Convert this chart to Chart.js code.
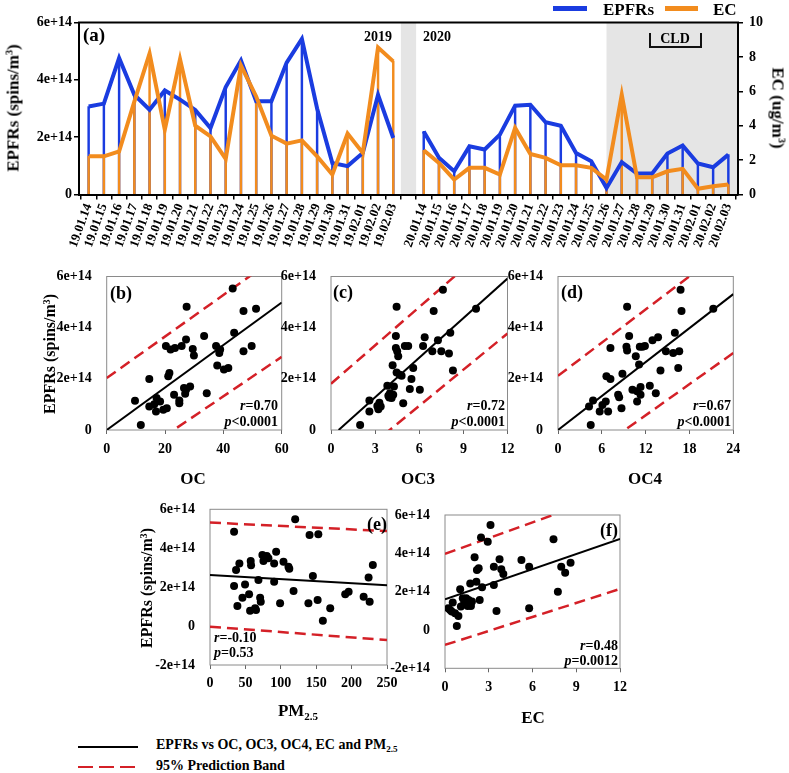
<!DOCTYPE html>
<html>
<head>
<meta charset="utf-8">
<script src="https://cdn.jsdelivr.net/npm/chart.js@4"></script>
<style>
  body { margin:0; width:789px; height:773px; position:relative; overflow:hidden; background:#fff;
         font-family:'Liberation Serif','Times New Roman',serif; font-weight:bold; color:#000; }
  canvas { position:absolute; }
  .note { position:absolute; white-space:nowrap; line-height:1; }
  .bar { position:absolute; }
</style>
</head>
<body>
<canvas id="ca"></canvas>
<canvas id="cb"></canvas>
<canvas id="cc"></canvas>
<canvas id="cd"></canvas>
<canvas id="ce"></canvas>
<canvas id="cf"></canvas>
<script>
// panel (a): daily EPFRs (x1e14 spins/m3) and EC (ug/m3)
const labels2019 = ['19.01.14','19.01.15','19.01.16','19.01.17','19.01.18','19.01.19','19.01.20','19.01.21',
  '19.01.22','19.01.23','19.01.24','19.01.25','19.01.26','19.01.27','19.01.28','19.01.29','19.01.30','19.01.31',
  '19.02.01','19.02.02','19.02.03'];
const labels2020 = ['20.01.14','20.01.15','20.01.16','20.01.17','20.01.18','20.01.19','20.01.20','20.01.21',
  '20.01.22','20.01.23','20.01.24','20.01.25','20.01.26','20.01.27','20.01.28','20.01.29','20.01.30','20.01.31',
  '20.02.01','20.02.02','20.02.03'];
const epfrs2019 = [3.07,3.17,4.76,3.48,2.96,3.63,3.31,2.95,2.32,3.75,4.68,3.25,3.25,4.60,5.43,3.00,1.10,0.99,1.45,3.48,1.97];
const ec2019    = [2.22,2.22,2.50,5.40,8.20,3.77,7.87,4.00,3.38,2.07,7.50,5.70,3.42,2.96,3.15,2.22,1.16,3.54,2.42,8.55,7.74];
const epfrs2020 = [2.20,1.28,0.81,1.68,1.57,2.09,3.10,3.13,2.52,2.40,1.45,1.16,0.23,1.13,0.73,0.73,1.43,1.71,1.08,0.95,1.39];
const ec2020    = [2.57,1.84,0.87,1.55,1.55,1.16,3.87,2.36,2.13,1.70,1.70,1.55,0.87,5.80,1.00,1.00,1.35,1.49,0.33,0.48,0.58];
const cldStartDay = '20.01.26';

// panels (b)-(f): [x, EPFRs x1e14]
const ptsOC = [[9.7,1.14],[11.7,0.20],[14.6,1.99],[14.6,0.92],[16.3,1.01],[16.9,0.72],[17.1,1.25],[18.3,1.11],[19.4,0.79],
  [20.6,0.85],[20.3,3.28],[21.1,2.10],[21.5,2.23],[21.9,3.15],[23.4,3.21],[25.7,3.28],[23.1,1.38],[24.9,1.15],[24.9,1.05],
  [27.2,3.54],[27.4,4.82],[26.5,1.64],[27.2,1.57],[28.6,1.70],[26.9,1.42],[29.5,3.17],[29.9,2.91],[33.4,3.67],[34.3,1.44],
  [37.5,3.28],[38.6,3.01],[38.9,3.15],[37.9,2.52],[40.2,2.36],[41.7,2.42],[43.2,5.53],[43.7,3.80],[46.9,3.08],[46.9,4.65],
  [49.7,3.28],[51.2,4.74]];
const ptsOC3 = [[1.98,0.20],[2.61,1.15],[2.61,0.72],[3.15,0.94],[3.22,0.81],[3.29,1.07],[3.83,1.73],[3.90,1.34],[3.96,1.27],
  [4.01,1.44],[4.12,1.25],[4.23,1.38],[4.28,1.70],[4.19,2.53],[4.41,3.67],[4.46,4.82],[4.41,3.21],[4.50,3.08],[4.57,2.88],
  [4.46,2.25],[4.68,2.16],[4.80,2.12],[5.36,1.60],[4.91,1.05],[5.02,3.28],[5.25,3.28],[5.47,1.99],[5.59,2.42],[6.04,1.57],
  [6.26,3.28],[6.37,3.63],[6.89,3.08],[6.98,4.65],[7.27,3.51],[7.50,3.08],[7.61,5.48],[8.02,2.99],[8.11,3.80],[8.29,2.33],
  [9.86,4.74],[3.38,0.92]];
const ptsOC4 = [[4.48,0.20],[4.25,0.92],[4.80,1.15],[5.71,0.72],[6.08,0.98],[6.54,1.11],[6.86,0.72],[6.63,2.10],[7.18,1.99],
  [7.18,3.21],[8.23,1.38],[8.37,1.28],[8.82,2.20],[8.69,0.85],[9.46,4.82],[9.74,3.67],[9.37,3.25],[9.46,3.11],[10.19,1.57],
  [10.65,2.88],[10.83,1.11],[11.10,2.56],[11.20,3.25],[11.30,1.68],[11.30,1.38],[11.57,3.25],[11.90,3.28],[12.57,1.73],
  [12.94,3.51],[13.39,1.44],[13.70,3.63],[14.03,2.33],[14.77,3.08],[15.77,3.01],[16.00,3.80],[16.46,2.42],[16.60,3.08],
  [16.78,5.48],[16.91,4.65],[21.26,4.74],[10.83,1.51]];
const ptsPM = [[34,4.85],[34,2.06],[36.8,2.88],[38.7,1.03],[41.5,3.22],[45.8,1.46],[49.5,2.14],[55.2,1.63],[57.5,3.34],
  [58,3.13],[56.6,0.79],[63.7,0.91],[65,0.82],[68.4,2.37],[70.8,1.46],[71.7,1.25],[74,3.65],[75.5,3.34],[80.2,3.60],
  [82.5,3.48],[90.6,3.22],[90.6,2.28],[93.4,3.82],[99,1.17],[103.8,3.31],[110.8,3.05],[112,2.95],[118,1.80],[120.3,5.49],
  [139,1.17],[140.6,4.68],[145.3,2.57],[152,1.34],[153,4.72],[159.4,0.27],[169.8,0.91],[191,1.63],[195.8,1.77],[217,1.51],
  [224,2.49],[225.5,1.25],[230,3.14]];
const ptsEC = [[0.23,1.13],[0.35,1.04],[0.46,0.96],[0.53,1.43],[0.69,0.87],[0.81,0.21],[0.92,0.73],[1.04,2.12],[1.09,1.22],
  [1.22,1.65],[1.32,1.43],[1.45,1.65],[1.45,1.39],[1.55,1.25],[1.62,1.57],[1.73,2.43],[1.78,1.25],[1.85,1.48],[2.03,3.79],
  [2.15,2.52],[2.19,3.13],[2.31,3.22],[2.38,1.57],[2.47,4.83],[2.54,2.23],[2.93,4.61],[3.12,5.48],[3.35,3.30],[3.35,2.35],
  [3.53,0.99],[3.74,3.69],[3.86,3.17],[4.00,2.92],[5.24,3.65],[5.77,3.30],[5.77,1.13],[7.44,4.73],[7.74,2.00],[7.97,3.30],
  [8.24,2.99],[8.61,3.51]];

// fitted line and 95% prediction band end points, [x, y]
const fitOC  = [[0,0],[60,4.98]],    upOC  = [[0,2.03],[60,6.9]],   loOC  = [[0,-1.77],[60,2.86]];
const fitOC3 = [[0.52,0],[12,5.92]], upOC3 = [[0,1.81],[12,7.8]],   loOC3 = [[0,-1.88],[12,3.77]];
const fitOC4 = [[0,0],[24,5.31]],    upOC4 = [[0,2.12],[24,7.3]],   loOC4 = [[0,-1.86],[24,3.01]];
const fitPM  = [[0,2.62],[250,2.1]], upPM  = [[0,5.32],[250,4.88]], loPM  = [[0,-0.03],[250,-0.72]];
const fitEC  = [[0,1.6],[12,4.75]],  upEC  = [[0,3.97],[12,7.26]],  loEC  = [[0,-0.78],[12,2.14]];

const BLUE = '#1a3ce0', ORANGE = '#f28c1e', RED = '#d42027';

Chart.defaults.font.family = "'Liberation Serif','Times New Roman',serif";
Chart.defaults.font.weight = 'bold';
Chart.defaults.color = '#000';
Chart.defaults.animation = false;
Chart.defaults.plugins.legend.display = false;
Chart.defaults.plugins.tooltip.enabled = false;

function setCanvas(id, box) {
  const c = document.getElementById(id);
  c.width = box.w; c.height = box.h;
  c.style.left = box.x + 'px'; c.style.top = box.y + 'px';
  return c;
}
const sciTick = v => v === 0 ? '0' : v + 'e+14';

// ---- panel (a)
const dayLabels = labels2019.concat([''], labels2020);
const gapIndex = labels2019.length;
const epfrsPts = epfrs2019.concat([null], epfrs2020).map((v, i) => ({x: i, y: v}));
const ecPts = ec2019.concat([null], ec2020).map((v, i) => ({x: i, y: v}));

const shade = {
  id: 'shade',
  beforeDraw(chart) {
    const {ctx, chartArea: a, scales: {x}} = chart;
    ctx.save();
    ctx.fillStyle = '#e5e5e5';
    const g0 = x.getPixelForValue(gapIndex - 0.5), g1 = x.getPixelForValue(gapIndex + 0.5);
    ctx.fillRect(g0, a.top, g1 - g0, a.bottom - a.top);
    const c0 = x.getPixelForValue(dayLabels.indexOf(cldStartDay));
    ctx.fillRect(c0, a.top, a.right - c0, a.bottom - a.top);
    ctx.restore();
  },
  afterDraw(chart) {
    const {ctx, chartArea: a} = chart;
    ctx.save();
    ctx.strokeStyle = '#000'; ctx.lineWidth = 2;
    ctx.beginPath(); ctx.moveTo(a.left - 1, a.top); ctx.lineTo(a.right + 1, a.top); ctx.stroke();
    ctx.restore();
  }
};

const boxA = {x: 0, y: 0, w: 789, h: 272}, plotA = {l: 79, t: 22.5, r: 738, b: 194.5};
new Chart(setCanvas('ca', boxA), {
  type: 'line',
  data: {datasets: [
    {type: 'bar', data: epfrsPts, yAxisID: 'y', backgroundColor: BLUE, barThickness: 1.8, grouped: false, order: 4},
    {type: 'bar', data: ecPts, yAxisID: 'y2', backgroundColor: ORANGE, barThickness: 1.8, grouped: false, order: 3},
    {data: epfrsPts, yAxisID: 'y', borderColor: BLUE, borderWidth: 4, pointRadius: 0, order: 2},
    {data: ecPts, yAxisID: 'y2', borderColor: ORANGE, borderWidth: 4, pointRadius: 0, order: 1}
  ]},
  options: {
    responsive: false,
    layout: {padding: {top: plotA.t, left: 0, right: 0, bottom: 0}},
    scales: {
      x: {
        type: 'linear', min: -0.13, max: dayLabels.length - 1 + 0.13,
        afterBuildTicks: s => { s.ticks = dayLabels.map((_, i) => ({value: i})); },
        ticks: {autoSkip: false, minRotation: 70, maxRotation: 70, padding: 2, font: {size: 13},
                callback: v => dayLabels[v]},
        grid: {drawOnChartArea: false, tickLength: 5, color: '#000', lineWidth: 1.5},
        border: {color: '#000', width: 2},
        afterFit: s => { s.height = boxA.h - plotA.b; }
      },
      y: {
        position: 'left', min: 0, max: 6,
        ticks: {stepSize: 2, padding: 2, font: {size: 14}, callback: sciTick},
        grid: {drawOnChartArea: false, tickLength: 5, color: '#000', lineWidth: 1.5},
        border: {color: '#000', width: 2},
        afterFit: s => { s.width = plotA.l - boxA.x; }
      },
      y2: {
        position: 'right', min: 0, max: 10,
        ticks: {stepSize: 2, padding: 6, font: {size: 14}},
        grid: {drawOnChartArea: false, tickLength: 5, color: '#000', lineWidth: 1.5},
        border: {color: '#000', width: 2},
        afterFit: s => { s.width = boxA.x + boxA.w - plotA.r; }
      }
    }
  },
  plugins: [shade]
});

// ---- scatter panels
const frame = {
  id: 'frame',
  beforeDatasetsDraw(chart) {
    const {ctx, chartArea: a} = chart;
    ctx.save();
    ctx.strokeStyle = '#8a8a8a'; ctx.lineWidth = 1;
    ctx.strokeRect(a.left, a.top, a.right - a.left, a.bottom - a.top);
    ctx.restore();
  }
};
const xy = arr => arr.map(p => ({x: p[0], y: p[1]}));

function scatterPanel(id, box, plot, pts, fit, up, lo, xMax, xStep, yMin, xPad) {
  new Chart(setCanvas(id, box), {
    type: 'scatter',
    data: {datasets: [
      {data: xy(pts), pointRadius: 4, backgroundColor: '#000', borderWidth: 0},
      {data: xy(fit), showLine: true, borderColor: '#000', borderWidth: 2, pointRadius: 0},
      {data: xy(up), showLine: true, borderColor: RED, borderWidth: 2.5, borderDash: [11, 6], pointRadius: 0},
      {data: xy(lo), showLine: true, borderColor: RED, borderWidth: 2.5, borderDash: [11, 6], pointRadius: 0}
    ]},
    options: {
      responsive: false,
      layout: {padding: {left: 0, bottom: 0, top: plot.t - box.y, right: box.x + box.w - plot.r}},
      scales: {
        x: {
          min: 0, max: xMax,
          ticks: {stepSize: xStep, padding: xPad, font: {size: 14}},
          grid: {drawOnChartArea: false, tickLength: 4, color: '#666'},
          border: {display: false},
          afterFit: s => { s.height = box.y + box.h - plot.b; }
        },
        y: {
          min: yMin, max: 6,
          ticks: {stepSize: 2, padding: 7, font: {size: 14}, callback: sciTick},
          grid: {display: false},
          border: {display: false},
          afterFit: s => { s.width = plot.l - box.x; }
        }
      }
    },
    plugins: [frame]
  });
}

scatterPanel('cb', {x: 40, y: 260, w: 262, h: 200}, {l: 106.7, t: 276.5, r: 281.7, b: 430}, ptsOC, fitOC, upOC, loOC, 60, 20, 0, 7);
scatterPanel('cc', {x: 266, y: 260, w: 262, h: 200}, {l: 331, t: 276.5, r: 507.5, b: 430}, ptsOC3, fitOC3, upOC3, loOC3, 12, 3, 0, 7);
scatterPanel('cd', {x: 493, y: 260, w: 262, h: 200}, {l: 558, t: 276.5, r: 733.3, b: 430}, ptsOC4, fitOC4, upOC4, loOC4, 24, 6, 0, 7);
scatterPanel('ce', {x: 150, y: 492, w: 260, h: 205}, {l: 210, t: 509.3, r: 387, b: 665}, ptsPM, fitPM, upPM, loPM, 250, 50, -2, 6);
scatterPanel('cf', {x: 380, y: 497, w: 265, h: 205}, {l: 445, t: 515, r: 620, b: 668.3}, ptsEC, fitEC, upEC, loEC, 12, 3, -2, 7);

// ---- text, legends, brackets
function note(html, x, y, size, align, rot) {
  const d = document.createElement('div');
  d.className = 'note';
  d.innerHTML = html;
  d.style.left = x + 'px'; d.style.top = y + 'px'; d.style.fontSize = size + 'px';
  const tx = align === 'l' ? '0' : align === 'r' ? '-100%' : '-50%';
  d.style.transform = 'translate(' + tx + ',-50%)' + (rot ? ' rotate(' + rot + 'deg)' : '');
  document.body.appendChild(d);
}
function bar(x, y, w, h, bg, extra) {
  const d = document.createElement('div');
  d.className = 'bar';
  d.style.cssText = 'left:' + x + 'px;top:' + y + 'px;width:' + w + 'px;height:' + h + 'px;background:' + bg + ';' + (extra || '');
  document.body.appendChild(d);
}

const m3 = 'm<sup style="font-size:0.6em;vertical-align:0.55em">3</sup>';
const pm25 = 'PM<sub style="font-size:0.65em;vertical-align:-0.3em">2.5</sub>';

// top legend
bar(553, 6, 34, 5, BLUE);
note('EPFRs', 603, 8.5, 17, 'l');
bar(665, 6, 33, 5, ORANGE);
note('EC', 713, 8.5, 17, 'l');

// panel (a) text
note('(a)', 94, 34, 19);
note('2019', 378, 37, 14);
note('2020', 437, 37, 14);
note('CLD', 675, 39, 14);
bar(649, 33, 53, 15, 'transparent', 'box-sizing:border-box;border:2px solid #111;border-top:none;');
note('EPFRs (spins/' + m3 + ')', 13, 108, 17, 'c', -90);
note('EC (ug/' + m3 + ')', 778, 108, 17, 'c', 90);

// scatter texts
note('EPFRs (spins/' + m3 + ')', 50, 354, 16, 'c', -90);
note('EPFRs (spins/' + m3 + ')', 147, 588, 16, 'c', -90);
note('(b)', 121, 293, 18);
note('(c)', 343, 292, 18);
note('(d)', 572, 292, 18);
note('(e)', 387, 524, 18, 'r');
note('(f)', 618, 530, 18, 'r');
note('<i>r</i>=0.70', 278, 406, 14, 'r');
note('<i>p</i>&lt;0.0001', 278, 422, 14, 'r');
note('<i>r</i>=0.72', 505, 406, 14, 'r');
note('<i>p</i>&lt;0.0001', 505, 422, 14, 'r');
note('<i>r</i>=0.67', 731, 406, 14, 'r');
note('<i>p</i>&lt;0.0001', 731, 422, 14, 'r');
note('<i>r</i>=-0.10', 214, 638, 14, 'l');
note('<i>p</i>=0.53', 214, 653, 14, 'l');
note('<i>r</i>=0.48', 618, 646, 14, 'r');
note('<i>p</i>=0.0012', 618, 661, 14, 'r');
note('OC', 193, 478, 17);
note('OC3', 418, 478, 17);
note('OC4', 645, 478, 17);
note(pm25, 298, 712, 17);
note('EC', 533, 717, 17);

// bottom legend
bar(78, 745.5, 60, 2, '#000');
note('EPFRs vs OC, OC3, OC4, EC and ' + pm25, 156, 746, 14, 'l');
bar(78, 765.5, 60, 2.5, 'repeating-linear-gradient(90deg,' + RED + ' 0 15px,transparent 15px 21px)');
note('95% Prediction Band', 156, 766, 14, 'l');
</script>
</body>
</html>
